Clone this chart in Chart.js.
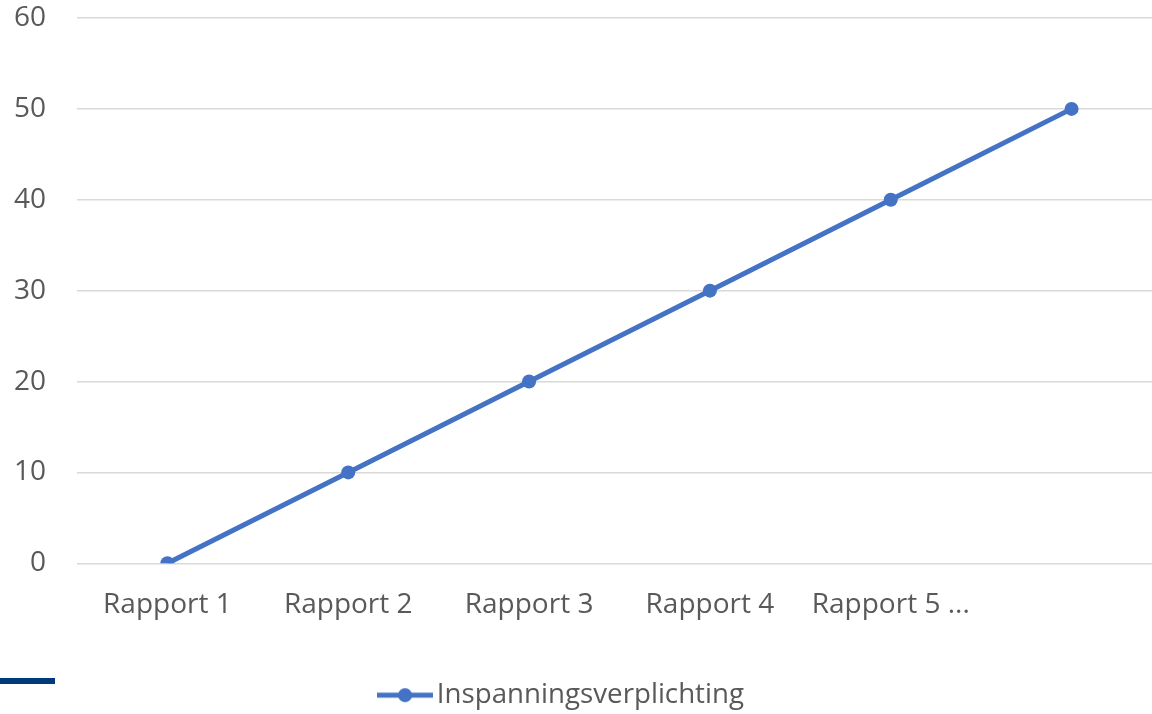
<!DOCTYPE html>
<html>
<head>
<meta charset="utf-8">
<script src="https://cdn.jsdelivr.net/npm/chart.js@4/dist/chart.umd.min.js"></script>
<style>
    html, body { margin: 0; padding: 0; background: #fff; overflow: hidden; }
    #wrap { position: relative; width: 1169px; height: 714px; }
    #bar { position: absolute; left: 0; top: 678px; width: 55px; height: 6px; background: #013a7a; }
</style>
</head>
<body>
<div id="wrap">
    <canvas id="lineChart" width="1169" height="714"></canvas>
    <div id="bar"></div>
</div>
<script>
var categories = ['Rapport 1', 'Rapport 2', 'Rapport 3', 'Rapport 4', 'Rapport 5 ...', ''];
var seriesName = 'Inspanningsverplichting';
var seriesValues = [0, 10, 20, 30, 40, 50];
var yTicks = [0, 10, 20, 30, 40, 50, 60];

var lineColor = '#4472C4';
var textColor = '#595959';
var fontFamily = "'Open Sans', 'Liberation Sans', sans-serif";

// legend marker: line with a dot in the middle
function makeLegendMarker() {
    var c = document.createElement('canvas');
    c.width = 56;
    c.height = 16;
    var ctx = c.getContext('2d');
    ctx.strokeStyle = lineColor;
    ctx.lineWidth = 5;
    ctx.beginPath();
    ctx.moveTo(0, 8);
    ctx.lineTo(56, 8);
    ctx.stroke();
    ctx.fillStyle = lineColor;
    ctx.beginPath();
    ctx.arc(28, 8, 7, 0, Math.PI * 2);
    ctx.fill();
    return c;
}

// nudge the legend a bit left of centre and a bit lower
var legendShift = {
    id: 'legendShift',
    afterLayout: function(chart) {
        chart.legend.left -= 19;
        chart.legend.right -= 19;
        chart.legend.top += 5;
        chart.legend.bottom += 5;
    }
};

var ctx = document.getElementById('lineChart').getContext('2d');
var chart = new Chart(ctx, {
    type: 'line',
    data: {
        labels: categories,
        datasets: [{
            label: seriesName,
            data: seriesValues,
            borderColor: lineColor,
            backgroundColor: lineColor,
            borderWidth: 5,
            pointRadius: 7,
            pointStyle: 'circle',
            pointBackgroundColor: lineColor,
            pointBorderWidth: 0,
            tension: 0
        }]
    },
    options: {
        responsive: false,
        animation: false,
        layout: { padding: { top: 18, right: 0, bottom: 0, left: 0 } },
        plugins: {
            tooltip: { enabled: false },
            legend: {
                position: 'bottom',
                labels: {
                    usePointStyle: true,
                    pointStyleWidth: 36,
                    color: textColor,
                    padding: 3,
                    font: { family: fontFamily, size: 27.7 },
                    generateLabels: function(chart) {
                        return [{
                            text: seriesName,
                            pointStyle: makeLegendMarker(),
                            fillStyle: lineColor,
                            strokeStyle: lineColor,
                            lineWidth: 0,
                            fontColor: textColor,
                            datasetIndex: 0
                        }];
                    }
                }
            }
        },
        scales: {
            x: {
                offset: true,
                afterFit: function(scale) { scale.height = 110; },
                grid: { display: false, drawTicks: false },
                border: { display: false },
                ticks: {
                    color: textColor,
                    padding: 25,
                    maxRotation: 0,
                    autoSkip: false,
                    font: { family: fontFamily, size: 28 }
                }
            },
            y: {
                min: 0,
                max: 60,
                afterFit: function(scale) {
                    scale.width = 77;
                    scale.paddingTop = 0;
                    scale.paddingBottom = 0;
                },
                afterBuildTicks: function(scale) {
                    scale.ticks = yTicks.map(function(v) { return { value: v }; });
                },
                grid: { color: '#d9d9d9', lineWidth: 1.5, drawTicks: false },
                border: { display: false },
                ticks: {
                    color: textColor,
                    padding: 31,
                    font: { family: fontFamily, size: 28 }
                }
            }
        }
    },
    plugins: [legendShift]
});
</script>
</body>
</html>
